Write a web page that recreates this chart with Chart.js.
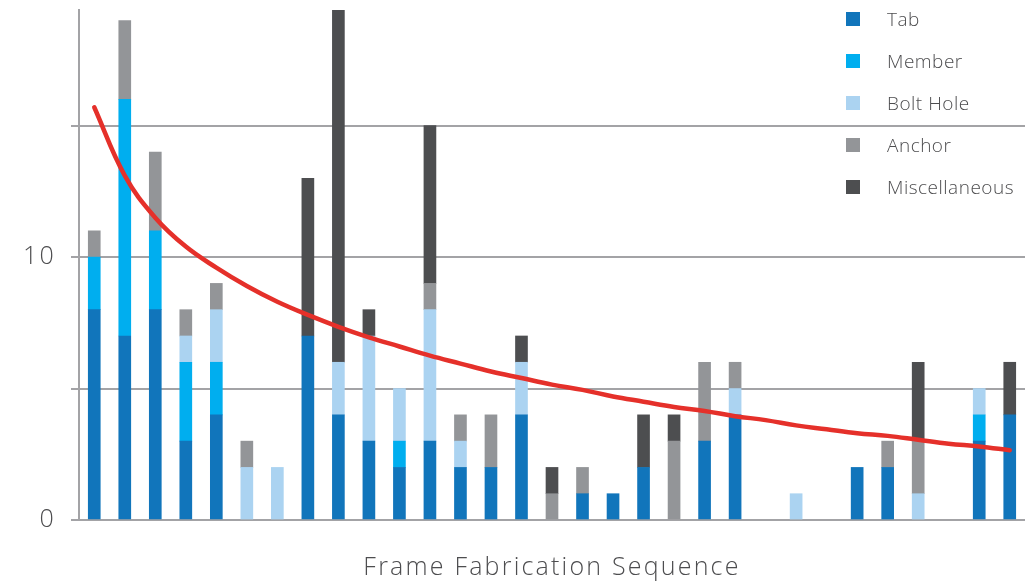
<!DOCTYPE html>
<html>
<head>
<meta charset="utf-8">
<script src="https://cdn.jsdelivr.net/npm/chart.js@4"></script>
<style>
  body { margin: 0; background: #fff; }
  #wrap { position: relative; width: 1033px; height: 582px; }
  #legend { position: absolute; left: 846px; top: 0; font-family: 'Open Sans', 'Lato', sans-serif; font-weight: 300; font-size: 19px; letter-spacing: 0.5px; color: #4d4d4f; }
  .item { position: absolute; left: 0; height: 20px; display: flex; align-items: center; white-space: nowrap; }
  .box { width: 14px; height: 14px; margin-right: 27px; }
</style>
</head>
<body>
<div id="wrap">
  <canvas id="fabrication" width="1033" height="582"></canvas>
  <div id="legend"></div>
</div>
<script>
// frame sequence (31 positions)
const sequence = ['1','2','3','4','5','6','7','8','9','10','11','12','13','14','15','16',
  '17','18','19','20','21','22','23','24','25','26','27','28','29','30','31'];

const tab      = [8,7,8,3,4,0,0,7,4,3,2,3,2,2,4,0,1,1,2,0,3,4,0,0,0,2,2,0,0,3,4];
const member   = [2,9,3,3,2,0,0,0,0,0,1,0,0,0,0,0,0,0,0,0,0,0,0,0,0,0,0,0,0,1,0];
const boltHole = [0,0,0,1,2,2,2,0,2,4,2,5,1,0,2,0,0,0,0,0,0,1,0,1,0,0,0,1,0,1,0];
const anchor   = [1,3,3,1,1,1,0,0,0,0,0,1,1,2,0,1,1,0,0,3,3,1,0,0,0,0,1,2,0,0,0];
const misc     = [0,0,0,0,0,0,0,6,14,1,0,6,0,0,1,1,0,0,2,1,0,0,0,0,0,0,0,3,0,0,2];

// red trend curve at each position
const trend = [15.7,13.1,11.5,10.4,9.6,8.9,8.3,7.8,7.35,6.95,6.6,6.25,5.95,5.65,5.4,5.15,
  4.95,4.7,4.5,4.3,4.15,3.95,3.8,3.6,3.45,3.3,3.2,3.05,2.9,2.8,2.65];

const yTicksShown = [0, 10];

const seriesNames = ['Tab', 'Member', 'Bolt Hole', 'Anchor', 'Miscellaneous'];
const seriesColors = ['#1175bb', '#00aeef', '#abd3f1', '#939598', '#4d4e50'];
const seriesData = [tab, member, boltHole, anchor, misc];

const textColor = '#4d4d4f';
const gridColor = '#a3a3a6';
const fontFamily = "'Open Sans', 'Lato', sans-serif";

var datasets = seriesData.map(function (d, i) {
    return {
        type: 'bar',
        label: seriesNames[i],
        // empty cells are left out so nothing is painted for them
        data: d.map(function (v) { return v === 0 ? null : v; }),
        backgroundColor: seriesColors[i],
        borderWidth: 0,
        barThickness: 12,
        order: 1
    };
});
datasets.push({
    type: 'line',
    label: 'trend',
    data: trend,
    borderColor: '#e5302a',
    borderWidth: 4.5,
    borderCapStyle: 'round',
    tension: 0.4,
    pointRadius: 0,
    fill: false,
    order: 0
});

// wider tracking on the axis text (the original uses a wide face)
const axisSpacing = {
    id: 'axisSpacing',
    beforeDraw: function (chart) { chart.ctx.letterSpacing = '2.2px'; },
    beforeDatasetsDraw: function (chart) { chart.ctx.letterSpacing = '0px'; }
};

var ctx = document.getElementById('fabrication').getContext('2d');
var chart = new Chart(ctx, {
    data: { labels: sequence, datasets: datasets },
    plugins: [axisSpacing],
    options: {
        responsive: false,
        animation: false,
        layout: { padding: { top: 10, right: 8, left: 0, bottom: 0 } },
        plugins: { legend: { display: false }, tooltip: { enabled: false } },
        scales: {
            x: {
                stacked: true,
                grid: { display: false, drawTicks: false },
                border: { display: false },
                ticks: { display: false },
                title: {
                    display: true,
                    text: 'Frame Fabrication Sequence',
                    color: textColor,
                    font: { family: fontFamily, size: 25, weight: 300, lineHeight: 1 },
                    padding: { top: 35, bottom: 2 }
                }
            },
            y: {
                stacked: true,
                min: 0,
                max: 19.4,
                afterFit: function (scale) {
                    scale.width = 79;
                    scale.paddingTop = 0;
                    scale.paddingBottom = 0;
                },
                grid: { color: gridColor, lineWidth: 2, tickLength: 8 },
                border: { display: true, color: gridColor, width: 2 },
                ticks: {
                    stepSize: 5,
                    includeBounds: false,
                    padding: 15,
                    color: textColor,
                    font: { family: fontFamily, size: 25, weight: 300 },
                    callback: function (v) { return yTicksShown.indexOf(v) >= 0 ? String(v) : ''; }
                }
            }
        }
    }
});

// legend laid over the top right of the plot
var legend = document.getElementById('legend');
seriesNames.forEach(function (name, i) {
    var item = document.createElement('div');
    item.className = 'item';
    item.style.top = (9 + i * 42) + 'px';
    var box = document.createElement('span');
    box.className = 'box';
    box.style.background = seriesColors[i];
    var txt = document.createElement('span');
    txt.textContent = name;
    item.appendChild(box);
    item.appendChild(txt);
    legend.appendChild(item);
});
</script>
</body>
</html>
